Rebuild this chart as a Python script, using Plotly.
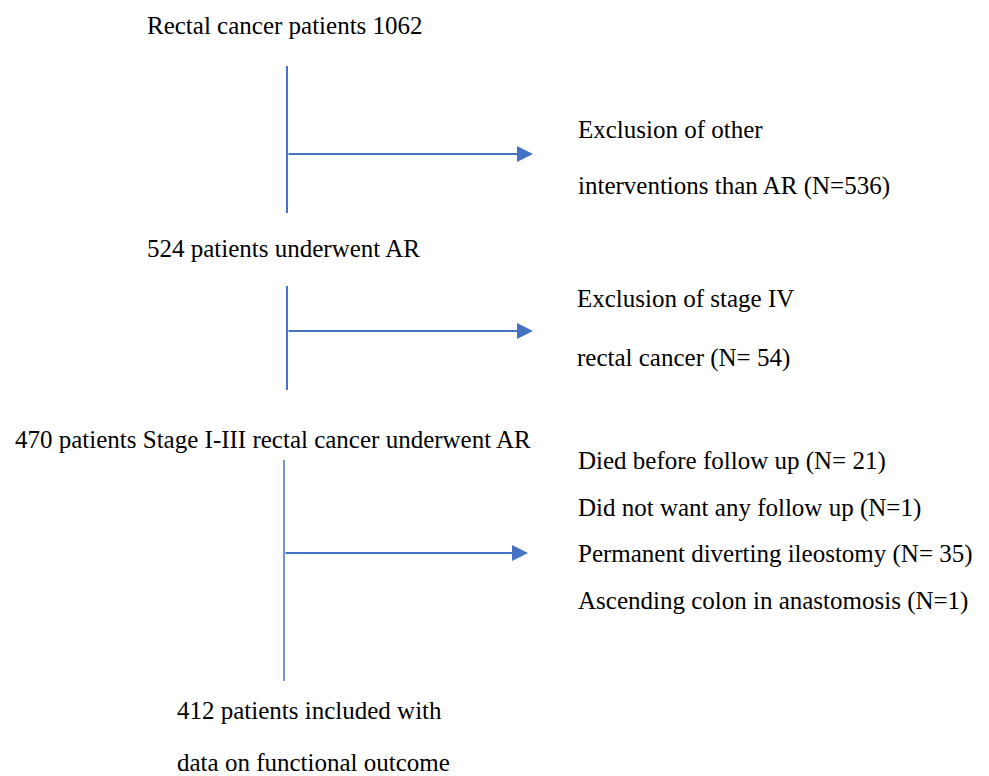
import plotly.graph_objects as go

# Flow chart content
main_steps = [
    "Rectal cancer patients 1062",
    "524 patients underwent AR",
    "470 patients Stage I-III rectal cancer underwent AR",
    "412 patients included with",
    "data on functional outcome",
]
exclusions_1 = ["Exclusion of other", "interventions than AR (N=536)"]
exclusions_2 = ["Exclusion of stage IV", "rectal cancer (N= 54)"]
exclusions_3 = [
    "Died before follow up (N= 21)",
    "Did not want any follow up (N=1)",
    "Permanent diverting ileostomy (N= 35)",
    "Ascending colon in anastomosis (N=1)",
]

# Layout (screen pixel coordinates)
main_pos = [(145, 25), (145, 248), (13, 439), (175, 710), (175, 762)]
excl1_pos = [(576, 129), (576, 186)]
excl2_pos = [(575, 298), (575, 358)]
excl3_pos = [(576, 461), (576, 508), (576, 554), (576, 601)]

# connectors: (x, y_top, y_bottom, y_branch, x_tip, width_v)
connectors = [
    (287, 66, 213, 154, 533, 2),
    (287, 286, 390, 331, 533, 2),
    (284, 460, 681, 553, 528, 1.5),
]

BLUE = "#4472C4"
FONT = dict(family="Liberation Serif, Times New Roman, serif", size=25, color="#000000")
OFF = 8  # page body margin

fig = go.Figure()
annotations = []
shapes = []

for texts, poss in [(main_steps, main_pos), (exclusions_1, excl1_pos),
                    (exclusions_2, excl2_pos), (exclusions_3, excl3_pos)]:
    for t, (x, y) in zip(texts, poss):
        annotations.append(dict(x=x, y=y, xref="x", yref="y", text=t, showarrow=False,
                                xanchor="left", yanchor="middle", font=FONT))

for (x, yt, yb, yc, xt, wv) in connectors:
    shapes.append(dict(type="line", x0=x, x1=x, y0=yt, y1=yb, xref="x", yref="y",
                       line=dict(color=BLUE, width=wv)))
    annotations.append(dict(x=xt, y=yc, ax=x, ay=yc, xref="x", yref="y", axref="x", ayref="y",
                            text="", showarrow=True, arrowhead=2, arrowsize=1.6,
                            arrowwidth=2, arrowcolor=BLUE))

fig.add_trace(go.Scatter(x=[OFF, 989 + OFF], y=[OFF, 776 + OFF], mode="markers",
                         marker=dict(opacity=0), hoverinfo="skip", showlegend=False))

fig.update_layout(
    width=989, height=776,
    margin=dict(l=0, r=0, t=0, b=0),
    paper_bgcolor="white", plot_bgcolor="white",
    xaxis=dict(range=[OFF, 989 + OFF], visible=False, fixedrange=True),
    yaxis=dict(range=[776 + OFF, OFF], visible=False, fixedrange=True),
    annotations=annotations, shapes=shapes,
    showlegend=False,
)

fig.write_html("out.html")
